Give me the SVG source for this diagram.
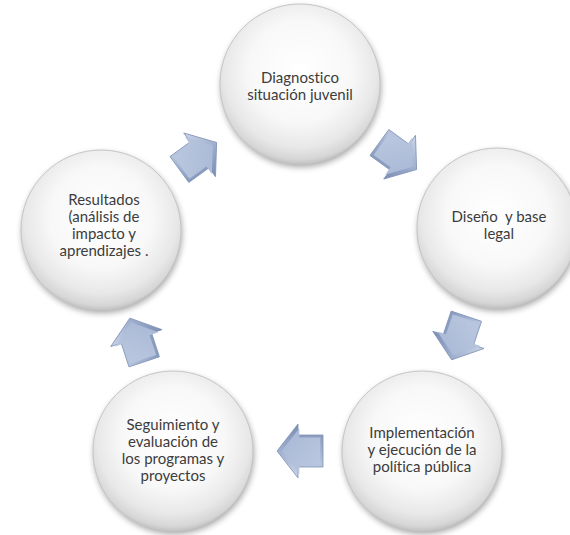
<svg xmlns="http://www.w3.org/2000/svg" width="570" height="535" viewBox="0 0 570 535">
  <style>
    .lbl { font-family: Lato, "Open Sans", "Liberation Sans", sans-serif; font-size: 15px; fill: #3c3c3c; text-anchor: middle; font-variant-ligatures: none; }
    .disc { fill: url(#discGrad); stroke: #c6c6c6; stroke-width: 1; }
    .shadow { fill: #000; opacity: 0.35; filter: url(#blur); }
    .arrOuter { fill: url(#arrEdge); stroke: #7f92b6; stroke-width: 0.8; }
    .arrInner { fill: url(#arrFace); }
  </style>
  <defs>
    <radialGradient id="discGrad" cx="50%" cy="42%" r="58%">
      <stop offset="0" stop-color="#ffffff"/>
      <stop offset="0.55" stop-color="#f8f8f8"/>
      <stop offset="0.82" stop-color="#e8e8e8"/>
      <stop offset="0.95" stop-color="#d6d6d6"/>
      <stop offset="1" stop-color="#c2c2c2"/>
    </radialGradient>
    <filter id="blur" x="-20%" y="-20%" width="140%" height="140%">
      <feGaussianBlur stdDeviation="3"/>
    </filter>
    <linearGradient id="arrEdge" x1="0" y1="0" x2="0" y2="1">
      <stop offset="0" stop-color="#cbd5e8"/>
      <stop offset="0.5" stop-color="#9fb0cf"/>
      <stop offset="1" stop-color="#7a8db2"/>
    </linearGradient>
    <linearGradient id="arrFace" x1="0" y1="0" x2="1" y2="1">
      <stop offset="0" stop-color="#bdc9e0"/>
      <stop offset="1" stop-color="#a6b6d4"/>
    </linearGradient>
    <g id="arrow">
      <polygon class="arrOuter" points="-23,-16 2,-16 2,-27 23,0 2,27 2,16 -23,16"/>
      <polygon class="arrInner" transform="translate(-1,0) scale(0.84)" points="-23,-16 2,-16 2,-27 23,0 2,27 2,16 -23,16"/>
    </g>
  </defs>

  <rect width="570" height="535" fill="#ffffff"/>

  <g id="connectors">
    <use href="#arrow" transform="translate(198,156) rotate(-36)"/>
    <use href="#arrow" transform="translate(398,156) rotate(36)"/>
    <use href="#arrow" transform="translate(459,338) rotate(108.6)"/>
    <use href="#arrow" transform="translate(300,451) rotate(180)"/>
    <use href="#arrow" transform="translate(137,340) rotate(251.8)"/>
  </g>

  <g id="node-diagnostico">
    <circle class="shadow" cx="301" cy="87" r="80"/>
    <circle class="disc" cx="300" cy="84" r="80"/>
    <text class="lbl" x="300" y="83">Diagnostico</text>
    <text class="lbl" x="300" y="100">situación juvenil</text>
  </g>

  <g id="node-diseno">
    <circle class="shadow" cx="498" cy="231" r="80"/>
    <circle class="disc" cx="497" cy="228" r="80"/>
    <text class="lbl" x="499" y="222" xml:space="preserve">Diseño  y base</text>
    <text class="lbl" x="499" y="239">legal</text>
  </g>

  <g id="node-implementacion">
    <circle class="shadow" cx="423" cy="454" r="80"/>
    <circle class="disc" cx="422" cy="451" r="80"/>
    <text class="lbl" x="422" y="438">Implementación</text>
    <text class="lbl" x="422" y="455">y ejecución de la</text>
    <text class="lbl" x="422" y="472">política pública</text>
  </g>

  <g id="node-seguimiento">
    <circle class="shadow" cx="174" cy="454" r="80"/>
    <circle class="disc" cx="173" cy="451" r="80"/>
    <text class="lbl" x="173" y="430">Seguimiento y</text>
    <text class="lbl" x="173" y="447">evaluación de</text>
    <text class="lbl" x="173" y="464">los programas y</text>
    <text class="lbl" x="173" y="481">proyectos</text>
  </g>

  <g id="node-resultados">
    <circle class="shadow" cx="102" cy="233" r="80"/>
    <circle class="disc" cx="101" cy="230" r="80"/>
    <text class="lbl" x="104" y="205">Resultados</text>
    <text class="lbl" x="104" y="222">(análisis de</text>
    <text class="lbl" x="104" y="239">impacto y</text>
    <text class="lbl" x="104" y="256">aprendizajes .</text>
  </g>
</svg>
